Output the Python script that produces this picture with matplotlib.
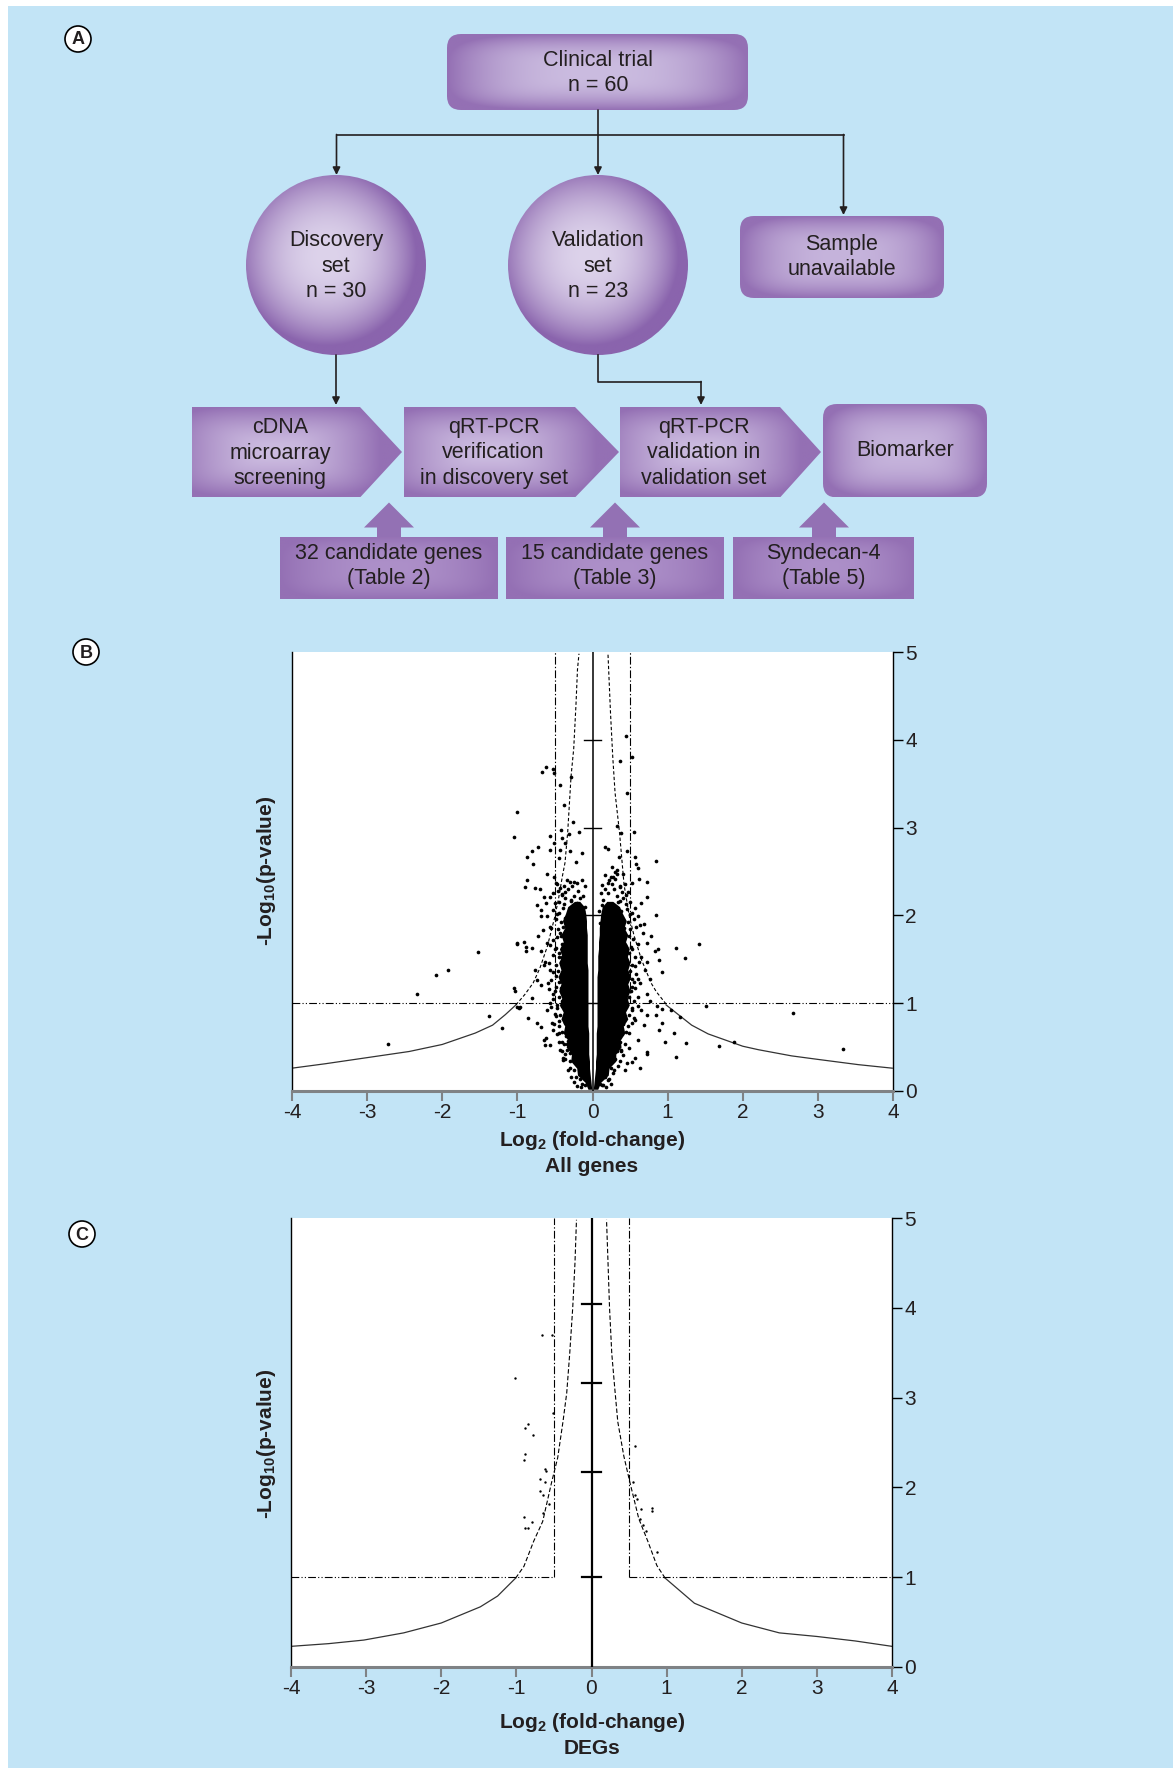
import numpy as np
import matplotlib
matplotlib.use('Agg')
import matplotlib.pyplot as plt
from matplotlib.colors import to_rgb
from matplotlib.patches import FancyBboxPatch, Polygon, Circle, Rectangle

plt.rcParams['font.family'] = ['Liberation Sans', 'DejaVu Sans']
plt.rcParams['mathtext.fontset'] = 'custom'
plt.rcParams['mathtext.rm'] = 'Liberation Sans'
plt.rcParams['mathtext.bf'] = 'Liberation Sans:bold'
plt.rcParams['axes.unicode_minus'] = False

W, H = 1173, 1768
BLUE = '#c2e4f6'
TXT = '#231f20'
GREY = '#7f8285'

# ---- panel A text ----
top_label = 'Clinical trial\nn = 60'
set_labels = ['Discovery\nset\nn = 30', 'Validation\nset\nn = 23']
unavail_label = 'Sample\nunavailable'
step_labels = ['cDNA\nmicroarray\nscreening', 'qRT-PCR\nverification\nin discovery set',
               'qRT-PCR\nvalidation in\nvalidation set']
final_label = 'Biomarker'
gene_labels = ['32 candidate genes\n(Table 2)', '15 candidate genes\n(Table 3)', 'Syndecan-4\n(Table 5)']

# ---- panel B: all genes ----
# scattered genes, left side
b_left_x = [-2.72, -2.33, -2.08, -1.92, -1.53, -1.00, -1.03, -1.38, -1.20, -1.01, -0.98,
            -0.62, -0.67, -0.52, -0.51, -0.43, -1.01, -0.29, -0.38, -1.04, -0.56, -0.51, -0.26, -0.18,
            -0.31, -0.42, -0.41, -0.36, -0.43, -0.30, -0.14, -0.73, -0.81, -0.87, -0.79, -0.57, -0.45,
            -0.22, -0.60, -0.51, -0.87, -0.90, -0.77, -0.70, -0.10, -0.64, -0.74, -0.68, -0.62, -0.69,
            -0.66, -0.73, -1.01, -0.91, -0.88, -0.81, -0.88, -0.68, -0.77, -0.63, -0.74, -0.69, -1.04,
            -0.97, -0.86, -0.74, -0.68, -0.62, -0.63, -0.52, -0.81, -0.61, -0.64, -0.39,
            -0.57, -0.50, -0.61, -0.57, -0.52, -0.61, -0.65, -0.57, -0.59, -0.52, -0.57, -0.50, -0.54,
            -0.45, -0.57, -0.43, -0.39, -0.32, -0.28, -0.34, -0.48, -0.45, -0.43, -0.49, -0.43, -0.34,
            -0.21, -0.14, -0.47, -0.50, -0.48, -0.47, -0.44, -0.40, -0.36, -0.25, -0.20, -0.15, -0.40,
            -0.46, -0.12, -0.10,
            -0.33, -0.27, -0.19, -0.16, -0.25, -0.30, -0.36, -0.29, -0.21, -0.12]
b_left_y = [0.54, 1.11, 1.32, 1.38, 1.58, 1.67, 1.14, 0.85, 0.72, 0.96, 0.94,
            3.69, 3.63, 3.67, 3.62, 3.49, 3.18, 3.58, 3.26, 2.89, 2.91, 2.83, 3.06, 2.95,
            2.93, 2.97, 2.88, 2.82, 2.75, 2.73, 2.71, 2.78, 2.73, 2.67, 2.59, 2.74, 2.65,
            2.61, 2.47, 2.44, 2.40, 2.32, 2.31, 2.30, 2.33, 2.21, 2.12, 2.06, 2.14, 1.99,
            1.83, 1.76, 1.69, 1.70, 1.64, 1.63, 1.59, 1.59, 1.38, 1.47, 1.26, 1.21, 1.17,
            0.96, 0.83, 0.78, 0.73, 0.60, 0.52, 0.69, 1.06, 0.92, 0.58, 0.38,
            2.21, 2.14, 1.99, 1.87, 1.72, 1.68, 1.44, 1.38, 1.23, 1.11, 1.00, 0.88, 0.77,
            0.66, 0.52, 0.47, 0.35, 0.24, 0.16, 0.54, 1.19, 1.53, 1.80, 2.37, 2.31, 2.40,
            2.37, 2.40, 2.02, 1.62, 1.31, 0.98, 0.80, 0.56, 0.42, 0.10, 0.06, 0.04, 2.23,
            2.28, 2.22, 2.10,
            2.30, 2.34, 2.28, 2.20, 2.22, 2.38, 2.20, 2.16, 2.14, 2.05]
# speckled fringe of the left mass
b_fringe_l_x = [-0.47, -0.38, -0.24, -0.52, -0.41, -0.36, -0.45, -0.38, -0.29, -0.53, -0.44, -0.39,
                -0.49, -0.42, -0.36, -0.55, -0.46, -0.39, -0.47, -0.42, -0.37, -0.56, -0.49, -0.41,
                -0.52, -0.44, -0.40, -0.58, -0.49, -0.42, -0.53, -0.46, -0.41, -0.55, -0.44, -0.40,
                -0.58, -0.50, -0.42, -0.53, -0.45, -0.40, -0.55, -0.47, -0.41, -0.48, -0.43, -0.38,
                -0.51, -0.44, -0.37, -0.47, -0.40, -0.35, -0.45, -0.38, -0.33, -0.40, -0.34, -0.30,
                -0.36, -0.30, -0.30, -0.24, -0.22, -0.17, -0.14, -0.10]
b_fringe_l_y = [2.36, 2.33, 2.38, 2.26, 2.24, 2.27, 2.15, 2.13, 2.17, 2.06, 2.03, 2.08,
                1.96, 1.93, 1.97, 1.86, 1.84, 1.87, 1.75, 1.77, 1.73, 1.66, 1.63, 1.67,
                1.55, 1.57, 1.53, 1.46, 1.44, 1.47, 1.35, 1.37, 1.33, 1.26, 1.24, 1.27,
                1.16, 1.14, 1.17, 1.05, 1.07, 1.03, 0.96, 0.94, 0.97, 0.85, 0.87, 0.83,
                0.76, 0.74, 0.77, 0.65, 0.67, 0.63, 0.56, 0.54, 0.57, 0.45, 0.47, 0.43,
                0.36, 0.34, 0.26, 0.24, 0.16, 0.14, 0.08, 0.07]
# scattered genes, right side
b_right_x = [0.89, 0.92, 1.11, 1.23, 1.42, 1.51, 0.92, 1.05, 1.16, 0.93, 0.89, 1.09, 0.96, 1.24,
             1.11, 1.69, 1.88, 2.67, 3.34,
             0.44, 0.53, 0.36, 0.46, 0.33, 0.38, 0.55, 0.16, 0.20, 0.46, 0.56, 0.84, 0.35, 0.26,
             0.60, 0.33, 0.41, 0.73, 0.62, 0.52, 0.47, 0.72, 0.56, 0.84, 0.63, 0.69, 0.78, 0.87,
             0.83, 0.73, 0.76, 0.63, 0.72, 0.86, 0.73, 0.63, 0.52, 0.46, 0.56, 0.69, 0.72, 0.65,
             0.76, 0.72, 0.84,
             0.58, 0.65, 0.61, 0.67, 0.72, 0.65, 0.70, 0.61, 0.56, 0.61, 0.49, 0.41, 0.34, 0.27,
             0.21, 0.12, 0.43, 0.52, 0.21, 0.27, 0.14, 0.10, 0.50, 0.52, 0.53, 0.52, 0.48, 0.38,
             0.08, 0.30, 0.36, 0.57, 0.25, 0.18,
             0.22, 0.28, 0.32, 0.20, 0.26, 0.16, 0.30, 0.34, 0.13, 0.40]
b_right_y = [1.49, 1.35, 1.63, 1.51, 1.67, 0.97, 0.93, 0.92, 0.84, 0.77, 0.69, 0.66, 0.56, 0.55,
             0.39, 0.51, 0.56, 0.89, 0.48,
             4.04, 3.80, 3.76, 3.39, 3.02, 2.94, 2.95, 2.78, 2.76, 2.73, 2.66, 2.62, 2.67, 2.55,
             2.54, 2.52, 2.47, 2.38, 2.42, 2.37, 2.27, 2.21, 2.08, 2.00, 1.89, 1.90, 1.76, 1.62,
             1.59, 1.47, 1.28, 1.23, 1.11, 0.97, 0.44, 0.26, 0.33, 0.32, 0.38, 0.75, 0.87, 0.92,
             1.02, 0.42, 0.86,
             2.59, 2.14, 1.99, 1.80, 1.68, 1.53, 1.38, 1.07, 0.81, 0.58, 0.49, 0.41, 0.28, 0.20,
             0.13, 0.07, 0.24, 1.28, 2.37, 2.44, 2.18, 1.91, 2.02, 1.62, 1.18, 0.92, 0.66, 0.45,
             2.05, 2.50, 2.32, 1.42, 0.08, 0.04,
             2.40, 2.30, 2.22, 2.25, 2.36, 2.30, 2.42, 2.15, 2.12, 2.20]
# speckled fringe of the right mass
b_fringe_r_x = [0.17, 0.25, 0.33, 0.13, 0.36, 0.43, 0.11, 0.39, 0.45, 0.36, 0.44, 0.50,
                0.38, 0.46, 0.53, 0.40, 0.47, 0.55, 0.42, 0.50, 0.58, 0.41, 0.48, 0.54,
                0.43, 0.51, 0.60, 0.44, 0.49, 0.56, 0.43, 0.52, 0.62, 0.45, 0.50, 0.58,
                0.44, 0.55, 0.60, 0.45, 0.51, 0.57, 0.44, 0.49, 0.55, 0.44, 0.53, 0.60,
                0.42, 0.48, 0.55, 0.41, 0.47, 0.52, 0.39, 0.45, 0.37, 0.43, 0.33, 0.38,
                0.30, 0.36, 0.24, 0.29, 0.17, 0.22, 0.10, 0.14]
b_fringe_r_y = [2.46, 2.44, 2.47, 2.35, 2.33, 2.36, 2.25, 2.27, 2.23, 2.16, 2.13, 2.15,
                2.05, 2.07, 2.03, 1.95, 1.93, 1.96, 1.86, 1.84, 1.87, 1.75, 1.77, 1.73,
                1.66, 1.64, 1.67, 1.55, 1.57, 1.53, 1.46, 1.44, 1.47, 1.35, 1.37, 1.33,
                1.26, 1.24, 1.27, 1.16, 1.14, 1.17, 1.05, 1.07, 1.03, 0.96, 0.94, 0.97,
                0.85, 0.87, 0.83, 0.76, 0.74, 0.77, 0.65, 0.67, 0.56, 0.54, 0.45, 0.47,
                0.36, 0.34, 0.26, 0.24, 0.16, 0.14, 0.08, 0.07]
# outline of the solid black mass of genes near zero (jagged edge as seen)
core_y = [0.02, 0.10, 0.18, 0.26, 0.34, 0.42, 0.50, 0.58, 0.66, 0.74, 0.82, 0.90, 0.98, 1.06, 1.14, 1.22,
          1.30, 1.38, 1.46, 1.54, 1.62, 1.70, 1.78, 1.86, 1.94, 2.02, 2.10, 2.16]
core_left_out = [-0.06, -0.10, -0.20, -0.21, -0.29, -0.28, -0.35, -0.33, -0.39, -0.37, -0.42, -0.39,
                 -0.44, -0.41, -0.45, -0.42, -0.46, -0.42, -0.45, -0.41, -0.44, -0.39, -0.42, -0.37,
                 -0.40, -0.36, -0.33, -0.24]
core_left_in = [-0.01, -0.02, -0.03, -0.04, -0.04, -0.05, -0.05, -0.05, -0.05, -0.06, -0.06, -0.06,
                -0.06, -0.06, -0.06, -0.06, -0.06, -0.06, -0.07, -0.07, -0.07, -0.07, -0.07, -0.08,
                -0.08, -0.09, -0.11, -0.17]
core_right_in = [0.01, 0.02, 0.03, 0.04, 0.04, 0.05, 0.05, 0.05, 0.05, 0.06, 0.06, 0.06, 0.06, 0.06,
                 0.06, 0.06, 0.06, 0.07, 0.07, 0.07, 0.08, 0.08, 0.09, 0.09, 0.10, 0.11, 0.13, 0.19]
core_right_out = [0.07, 0.11, 0.21, 0.22, 0.31, 0.31, 0.38, 0.37, 0.43, 0.41, 0.47, 0.44, 0.49, 0.46,
                  0.50, 0.47, 0.51, 0.47, 0.50, 0.46, 0.49, 0.44, 0.47, 0.42, 0.45, 0.40, 0.36, 0.27]

# threshold curve, panel B
b_curve_l_x = [-4.0, -3.56, -3.0, -2.44, -2.0, -1.56, -1.33, -1.16, -1.02]
b_curve_l_y = [0.26, 0.31, 0.38, 0.45, 0.53, 0.66, 0.75, 0.87, 0.98]
b_dash_l_x = [-1.02, -0.9, -0.79, -0.7, -0.6, -0.5, -0.45, -0.4, -0.366, -0.33, -0.286, -0.25, -0.22, -0.2, -0.18]
b_dash_l_y = [0.98, 1.1, 1.23, 1.4, 1.65, 1.99, 2.2, 2.45, 2.6, 2.95, 3.58, 3.9, 4.4, 4.8, 4.98]
b_curve_r_x = [0.98, 1.32, 1.54, 2.0, 2.21, 2.65, 3.0, 3.54, 3.99]
b_curve_r_y = [0.98, 0.75, 0.65, 0.51, 0.47, 0.40, 0.36, 0.30, 0.26]
b_dash_r_x = [0.98, 0.85, 0.78, 0.65, 0.55, 0.49, 0.42, 0.36, 0.30, 0.27, 0.24, 0.206]
b_dash_r_y = [0.99, 1.13, 1.23, 1.5, 1.78, 1.99, 2.35, 2.94, 3.4, 3.8, 4.3, 4.98]
b_center_ticks = [1, 2, 3, 4]

# ---- panel C: DEGs ----
c_x = [-0.66, -0.52, -1.02, -0.515, -0.84, -0.89, -0.78, -0.89, -0.90, -0.62, -0.60, -0.68, -0.62,
       -0.68, -0.65, -0.56, -0.65, -0.90, -0.79, -0.88, -0.84,
       0.58, 0.555, 0.58, 0.61, 0.66, 0.81, 0.81, 0.64, 0.69, 0.72, 0.87]
c_y = [3.70, 3.70, 3.22, 2.83, 2.71, 2.66, 2.58, 2.37, 2.31, 2.21, 2.18, 2.09, 2.06,
       1.96, 1.92, 1.82, 1.72, 1.67, 1.62, 1.55, 1.55,
       2.46, 2.06, 1.91, 1.87, 1.76, 1.77, 1.74, 1.65, 1.58, 1.52, 1.28]
c_curve_l_x = [-4.0, -3.5, -3.03, -2.5, -2.0, -1.48, -1.25, -1.01]
c_curve_l_y = [0.23, 0.26, 0.30, 0.38, 0.49, 0.67, 0.79, 0.99]
c_dash_l_x = [-1.01, -0.9, -0.77, -0.65, -0.53, -0.45, -0.38, -0.33, -0.29, -0.25, -0.22, -0.2]
c_dash_l_y = [0.99, 1.12, 1.40, 1.62, 2.06, 2.33, 2.73, 3.05, 3.49, 4.0, 4.5, 4.98]
c_curve_r_x = [0.98, 1.37, 2.0, 2.5, 3.0, 3.51, 4.0]
c_curve_r_y = [0.99, 0.71, 0.49, 0.38, 0.34, 0.29, 0.23]
c_dash_r_x = [0.98, 0.87, 0.75, 0.63, 0.51, 0.43, 0.35, 0.31, 0.27, 0.24, 0.22, 0.20]
c_dash_r_y = [0.99, 1.13, 1.40, 1.65, 2.06, 2.35, 2.73, 3.1, 3.49, 4.0, 4.5, 4.98]
c_center_ticks = [1.0, 2.17, 3.16, 4.04]

fc_cut = 0.5   # log2 fold-change cut-off
p_cut = 1.0    # -log10 p cut-off

fig = plt.figure(figsize=(W / 100, H / 100), dpi=100)
fig.patch.set_facecolor('white')
bg = fig.add_axes([0, 0, 1, 1])
bg.set_xlim(0, W)
bg.set_ylim(H, 0)
bg.set_autoscale_on(False)
bg.axis('off')
bg.add_patch(Rectangle((8, 6), W - 8, H - 6, fc=BLUE, ec='none', zorder=0))


def shade(patch, x0, y0, x1, y1, c_mid, c_edge, p=4, k=2.0, hl=(0.0, 0.0)):
    # gradient image clipped to a patch
    n = 160
    u = np.linspace(-1, 1, n)[None, :] - hl[0]
    v = np.linspace(-1, 1, n)[:, None] - hl[1]
    d = (np.abs(u) ** p + np.abs(v) ** p) ** (1.0 / p)
    t = np.clip(d, 0, 1) ** k
    c0 = np.array(to_rgb(c_mid))
    c1 = np.array(to_rgb(c_edge))
    img = c0 * (1 - t[..., None]) + c1 * t[..., None]
    bg.add_patch(patch)
    im = bg.imshow(img, extent=(x0, x1, y1, y0), aspect='auto', interpolation='bilinear', zorder=2)
    im.set_clip_path(patch)


def label(x, y, s, size=15.5):
    bg.text(x, y, s, ha='center', va='center', fontsize=size, color=TXT, linespacing=1.3, zorder=5)


def arrow(x0, y0, x1, y1):
    bg.annotate('', xy=(x1, y1), xytext=(x0, y0),
                arrowprops=dict(arrowstyle='-|>', color=TXT, lw=1.2, mutation_scale=11,
                                shrinkA=0, shrinkB=0), zorder=4)


def panel_tag(x, y, s):
    bg.add_patch(Circle((x, y), 13, fc='white', ec='black', lw=1.2, zorder=5))
    bg.text(x, y + 1, s, ha='center', va='center', fontsize=13, fontweight='bold', color=TXT, zorder=6)


# ---- panel A ----
panel_tag(78, 39, 'A')
box = FancyBboxPatch((447, 34), 301, 76, boxstyle='round,pad=0,rounding_size=14', fc='none', ec='none')
shade(box, 447, 34, 748, 110, '#cbbce0', '#9470b4', p=4, k=2.5)
label(598, 73, top_label)

bg.plot([336.5, 843.5], [134.5, 134.5], color=TXT, lw=1.2, zorder=3)
arrow(336.5, 134.5, 336.5, 175)
arrow(598, 110, 598, 175)
arrow(843.5, 134.5, 843.5, 215)

for cx, s in zip([336, 598], set_labels):
    circ = Circle((cx, 265), 90, fc='none', ec='none')
    shade(circ, cx - 90, 175, cx + 90, 355, '#ddd3eb', '#8a64ad', p=2, k=2.2, hl=(-0.1, -0.1))
    label(cx, 266, s)

ubox = FancyBboxPatch((740, 216), 204, 82, boxstyle='round,pad=0,rounding_size=14', fc='none', ec='none')
shade(ubox, 740, 216, 944, 298, '#c6b4dc', '#9470b4', p=4, k=2.5)
label(842, 257, unavail_label)

arrow(336, 355, 336, 405)
bg.plot([598, 598, 701], [355, 381.5, 381.5], color=TXT, lw=1.2, zorder=3)
arrow(701, 381.5, 701, 405)

step_x = [(192, 360, 402), (404, 575, 619), (620, 780, 821)]
for (xl, xb, xt), s in zip(step_x, step_labels):
    pent = Polygon([(xl, 407), (xb, 407), (xt, 452), (xb, 497.5), (xl, 497.5)], closed=True, fc='none', ec='none')
    shade(pent, xl, 407, xt, 497.5, '#cdbde1', '#9470b4', p=4, k=1.6, hl=(-0.2, 0.0))
    label((xl + xb) / 2 + 4, 453, s)

fbox = FancyBboxPatch((823, 404), 164, 93.5, boxstyle='round,pad=0,rounding_size=14', fc='none', ec='none')
shade(fbox, 823, 404, 987, 497.5, '#c6b4dc', '#9470b4', p=4, k=2.5)
label(905, 451, final_label)

gene_x = [(280, 498, 389), (506, 724, 615), (733, 914, 824)]
for (x0, x1, xa), s in zip(gene_x, gene_labels):
    arr = Polygon([(xa - 12, 537), (xa - 12, 527.5), (xa - 25, 527.5), (xa, 502.5),
                   (xa + 25, 527.5), (xa + 12, 527.5), (xa + 12, 537)], closed=True,
                  fc='#9371b4', ec='none', zorder=2)
    bg.add_patch(arr)
    gbox = Rectangle((x0, 537), x1 - x0, 62.5, fc='none', ec='none')
    shade(gbox, x0, 537, x1, 599.5, '#ad90c9', '#9470b4', p=4, k=2.0)
    label((x0 + x1) / 2, 566, s)


# ---- volcano panels ----
def volcano(rect):
    ax = fig.add_axes(rect)
    ax.set_facecolor('white')
    ax.set_xlim(-4, 4)
    ax.set_ylim(0, 5)
    ax.spines['top'].set_visible(False)
    ax.spines['bottom'].set_color(GREY)
    ax.spines['bottom'].set_linewidth(2.2)
    ax.spines['left'].set_linewidth(1.0)
    ax.spines['right'].set_linewidth(1.0)
    ax.yaxis.tick_right()
    ax.set_xticks(range(-4, 5))
    ax.set_yticks(range(0, 6))
    ax.tick_params(axis='x', direction='out', length=7, width=1.5, color=GREY, labelsize=15,
                   labelcolor=TXT, pad=2)
    ax.tick_params(axis='y', direction='out', length=7, width=1.0, labelsize=15, labelcolor=TXT,
                   pad=2, left=False, right=True)
    return ax


dadot = (0, (7, 2, 1, 2, 1, 2))
dadash = (0, (7, 2, 1.2, 2))

# panel B
panel_tag(86, 652, 'B')
axb = volcano([292 / W, 1 - 1091 / H, 601 / W, 439 / H])
axb.fill_betweenx(core_y, core_left_out, core_left_in, color='black', lw=0, zorder=3)
axb.fill_betweenx(core_y, core_right_in, core_right_out, color='black', lw=0, zorder=3)
axb.scatter(b_left_x, b_left_y, s=7, c='black', lw=0, zorder=3)
axb.scatter(b_right_x, b_right_y, s=7, c='black', lw=0, zorder=3)
axb.scatter(b_fringe_l_x, b_fringe_l_y, s=7, c='black', lw=0, zorder=3)
axb.scatter(b_fringe_r_x, b_fringe_r_y, s=7, c='black', lw=0, zorder=3)
axb.plot(b_curve_l_x, b_curve_l_y, color='#333333', lw=0.9, zorder=2)
axb.plot(b_curve_r_x, b_curve_r_y, color='#333333', lw=0.9, zorder=2)
axb.plot(b_dash_l_x, b_dash_l_y, color='black', lw=0.8, ls=(0, (3, 2)), zorder=2)
axb.plot(b_dash_r_x, b_dash_r_y, color='black', lw=0.8, ls=(0, (3, 2)), zorder=2)
axb.plot([-4, 4], [p_cut, p_cut], color='black', lw=0.8, ls=dadot, zorder=2)
axb.plot([-fc_cut, -fc_cut], [p_cut, 5], color='black', lw=0.8, ls=dadash, zorder=2)
axb.plot([fc_cut, fc_cut], [p_cut, 5], color='black', lw=0.8, ls=dadash, zorder=2)
axb.plot([0, 0], [0, 5], color='black', lw=1.1, zorder=4)
for t in b_center_ticks:
    axb.plot([-0.11, 0.11], [t, t], color='black', lw=1.0, zorder=4)

fig.text(266 / W, 1 - 871 / H, r'-Log$_{\mathregular{10}}$(p-value)', rotation=90, ha='center', va='center',
         fontsize=15, fontweight='bold', color=TXT)
fig.text(592 / W, 1 - 1141 / H, r'Log$_{\mathregular{2}}$ (fold-change)', ha='center', va='center',
         fontsize=15, fontweight='bold', color=TXT)
fig.text(592 / W, 1 - 1167 / H, 'All genes', ha='center', va='center', fontsize=15, fontweight='bold', color=TXT)

# panel C
panel_tag(82, 1234, 'C')
axc = volcano([291 / W, 1 - 1667 / H, 601 / W, 449 / H])
axc.scatter(c_x, c_y, s=3, c='black', lw=0, zorder=3)
axc.plot(c_curve_l_x, c_curve_l_y, color='#333333', lw=0.9, zorder=2)
axc.plot(c_curve_r_x, c_curve_r_y, color='#333333', lw=0.9, zorder=2)
axc.plot(c_dash_l_x, c_dash_l_y, color='black', lw=0.8, ls=(0, (4, 2)), zorder=2)
axc.plot(c_dash_r_x, c_dash_r_y, color='black', lw=0.8, ls=(0, (4, 2)), zorder=2)
axc.plot([-4, -fc_cut], [p_cut, p_cut], color='black', lw=0.8, ls=dadot, zorder=2)
axc.plot([fc_cut, 4], [p_cut, p_cut], color='black', lw=0.8, ls=dadot, zorder=2)
axc.plot([-fc_cut, -fc_cut], [p_cut, 5], color='black', lw=0.8, ls=dadash, zorder=2)
axc.plot([fc_cut, fc_cut], [p_cut, 5], color='black', lw=0.8, ls=dadash, zorder=2)
axc.plot([0, 0], [0, 5], color='black', lw=1.6, zorder=4)
for t in c_center_ticks:
    axc.plot([-0.13, 0.13], [t, t], color='black', lw=1.6, zorder=4)

fig.text(266 / W, 1 - 1444 / H, r'-Log$_{\mathregular{10}}$(p-value)', rotation=90, ha='center', va='center',
         fontsize=15, fontweight='bold', color=TXT)
fig.text(592 / W, 1 - 1723 / H, r'Log$_{\mathregular{2}}$ (fold-change)', ha='center', va='center',
         fontsize=15, fontweight='bold', color=TXT)
fig.text(592 / W, 1 - 1748 / H, 'DEGs', ha='center', va='center', fontsize=15, fontweight='bold', color=TXT)

fig.savefig('out.png', dpi=100, facecolor=fig.get_facecolor())
